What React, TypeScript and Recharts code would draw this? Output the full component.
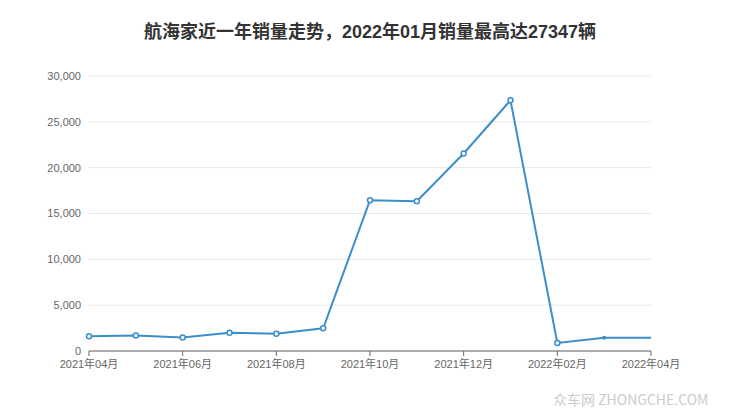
import { LineChart, Line, XAxis, YAxis, CartesianGrid } from "recharts";

// monthly sales
const months = [
  "2021年04月", "2021年05月", "2021年06月", "2021年07月", "2021年08月", "2021年09月",
  "2021年10月", "2021年11月", "2021年12月", "2022年01月", "2022年02月", "2022年03月", "2022年04月",
];
const sales = [1620, 1700, 1480, 2000, 1890, 2470, 16450, 16350, 21550, 27347, 870, 1450, 1450];
const yTicks = [0, 5000, 10000, 15000, 20000, 25000, 30000];

const data = months.map((m, i) => ({ month: m, sales: sales[i] }));

const FONT = '"Liberation Sans", "Noto Sans CJK SC", sans-serif';
const BLUE = "#3b8ec9";

// last point has no marker, the one before it a small filled one (as in the picture)
const renderDot = (props: any) => {
  const { cx, cy, index } = props;
  const n = months.length;
  if (index === n - 1) return <g key={`d-${index}`} />;
  if (index === n - 2) return <circle key={`d-${index}`} cx={cx} cy={cy} r={2} fill={BLUE} />;
  return <circle key={`d-${index}`} cx={cx} cy={cy} r={2.5} fill="#fff" stroke={BLUE} strokeWidth={1.5} />;
};

export default function App() {
  return (
    <div style={{ position: "absolute", left: 0, top: 0, width: 740, height: 417, background: "#fff", fontFamily: FONT }}>
      <div
        style={{
          position: "absolute", left: 0, top: 20, width: 740, textAlign: "center",
          fontSize: 18, fontWeight: "bold", color: "#333", lineHeight: "24px",
        }}
      >
        航海家近一年销量走势，2022年01月销量最高达27347辆
      </div>
      <LineChart width={740} height={417} data={data} margin={{ top: 76, right: 89, bottom: 36, left: 0 }}>
        <CartesianGrid vertical={false} stroke="#e8e8e8" />
        <XAxis
          dataKey="month"
          interval={1}
          tick={{ fontSize: 11, fill: "#666", fontFamily: FONT }}
          tickLine={{ stroke: "#666" }}
          axisLine={{ stroke: "#666" }}
          tickSize={5}
          tickMargin={4}
        />
        <YAxis
          width={89}
          domain={[0, 30000]}
          ticks={yTicks}
          tickFormatter={(v: number) => v.toLocaleString("en-US")}
          tick={{ fontSize: 11, fill: "#666", fontFamily: FONT }}
          axisLine={false}
          tickLine={false}
        />
        <Line
          type="linear"
          dataKey="sales"
          stroke={BLUE}
          strokeWidth={2}
          dot={renderDot}
          isAnimationActive={false}
        />
      </LineChart>
      <div style={{ position: "absolute", left: 553, top: 389, fontSize: 14, color: "#ccc", fontFamily: '"Noto Sans CJK SC", sans-serif' }}>
        众车网 ZHONGCHE.COM
      </div>
    </div>
  );
}
